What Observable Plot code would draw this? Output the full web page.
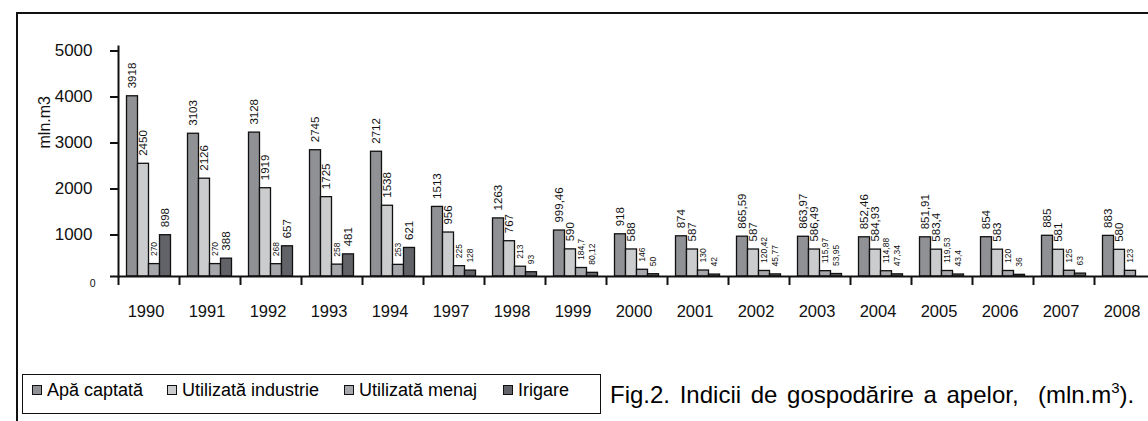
<!DOCTYPE html>
<html>
<head>
<meta charset="utf-8">
<script src="https://cdn.jsdelivr.net/npm/d3@7"></script>
<script src="https://cdn.jsdelivr.net/npm/@observablehq/plot@0.6"></script>
<style>
  html, body { margin: 0; padding: 0; background: #fff; overflow: hidden; }
  #page { position: relative; width: 1148px; height: 421px; font-family: "Liberation Sans", Arial, sans-serif; color: #000; }
  #border { position: absolute; left: 16px; top: 12px; width: 1200px; height: 430px; border-left: 2px solid #111; border-top: 2px solid #111; }
  #chart { position: absolute; left: 0; top: 0; }
  #legend { position: absolute; left: 22px; top: 374px; width: 577px; height: 38px; border: 1px solid #111; }
  .item { position: absolute; top: 5px; height: 20px; display: flex; align-items: center; font-size: 18px; line-height: 20px; white-space: nowrap; }
  .sw { width: 8px; height: 8px; border: 1px solid #111; margin-right: 5px; }
  #caption { position: absolute; left: 610px; top: 383px; font-size: 24px; line-height: 24px; white-space: nowrap; word-spacing: 3px; }
  #caption sup { font-size: 15px; vertical-align: 0; position: relative; top: -10px; }
</style>
</head>
<body>
<div id="page">
  <div id="border"></div>
  <div id="chart"></div>
  <div id="legend"></div>
  <div id="caption">Fig.2. Indicii de gospodărire a apelor,&nbsp; (mln.m<sup>3</sup>).</div>
</div>
<script>
// ---- data ----
const years = ["1990","1991","1992","1993","1994","1997","1998","1999","2000","2001","2002","2003","2004","2005","2006","2007","2008"];
const seriesNames = ["Apă captată", "Utilizată industrie", "Utilizată menaj", "Irigare"];
const apaCaptata = [3918, 3103, 3128, 2745, 2712, 1513, 1263, 999.46, 918, 874, 865.59, 863.97, 852.46, 851.91, 854, 885, 883];
const industrie  = [2450, 2126, 1919, 1725, 1538, 956, 767, 590, 588, 587, 587, 586.49, 584.93, 583.4, 583, 581, 580];
const menaj      = [270, 270, 268, 258, 253, 225, 213, 184.7, 146, 130, 120.42, 115.97, 114.88, 119.53, 120, 125, 123];
const irigare    = [898, 388, 657, 481, 621, 128, 93, 80.12, 50, 42, 45.77, 53.95, 47.34, 43.4, 36, 63, null];
const yTicks = [1000, 2000, 3000, 4000, 5000];
const seriesColors = ["#909195", "#cbccce", "#a6a7ab", "#626368"];

const seriesValues = [apaCaptata, industrie, menaj, irigare];
const fmt = v => String(v).replace(".", ",");

const step = 61, barW = 11, pad = (step - 4 * barW) / 2;
const marks = [];
seriesValues.forEach((vals, k) => {
  const rows = years.map((year, i) => ({year, value: vals[i]})).filter(d => d.value != null);
  marks.push(Plot.barY(rows, {
    x: "year", y: "value", fill: seriesColors[k], stroke: "#111", strokeWidth: 1.3,
    insetLeft: pad + barW * k, insetRight: pad + barW * (3 - k)
  }));
  marks.push(Plot.text(rows, {
    x: "year", y: "value", text: d => fmt(d.value), rotate: -90, textAnchor: "start",
    dx: pad + barW * k + barW / 2 - step / 2, dy: -8,
    fontSize: d => d.value >= 300 ? 11.5 : 8.5, fill: "#111"
  }));
});

const chart = Plot.plot({
  width: 1148,
  height: 340,
  marginLeft: 118,
  marginRight: 0,
  marginTop: 46,
  marginBottom: 64,
  style: {background: "transparent", fontFamily: "'Liberation Sans', Arial, sans-serif", color: "#111", overflow: "visible"},
  x: {type: "band", domain: years, range: [118, 118 + step * years.length], padding: 0, axis: null, label: null},
  y: {domain: [0, 5000], axis: null, label: null},
  marks: [
    ...marks,
    Plot.ruleY([0], {stroke: "#111", strokeWidth: 2, insetLeft: -8}),
    Plot.frame({anchor: "left", stroke: "#111", strokeWidth: 2}),
    Plot.axisY({ticks: yTicks, tickSize: 8, tickPadding: 18, strokeWidth: 2, fontSize: 17, dy: 4.5, label: null, tickFormat: d => String(d)}),
    Plot.axisY({ticks: [0], tickSize: 0, tickPadding: 23, fontSize: 10.5, dy: 7, label: null, tickFormat: d => String(d)}),
    Plot.axisX({tickSize: 9, strokeWidth: 2, dx: -step / 2, label: null, tickFormat: () => ""}),
    Plot.text(years, {x: d => d, frameAnchor: "bottom", dy: 40, dx: -3, fontSize: 16.5, fill: "#111"}),
    Plot.text(["mln.m3"], {frameAnchor: "left", dx: -74, dy: -13, rotate: -90, fontSize: 16, fill: "#111"})
  ]
});
document.getElementById("chart").appendChild(chart);

// legend
const legendLeft = [9, 144, 321, 480];
const legend = document.getElementById("legend");
seriesNames.forEach((name, k) => {
  const it = document.createElement("div");
  it.className = "item";
  it.style.left = legendLeft[k] + "px";
  const sw = document.createElement("div");
  sw.className = "sw";
  sw.style.background = seriesColors[k];
  const t = document.createElement("span");
  t.textContent = name;
  it.appendChild(sw); it.appendChild(t);
  legend.appendChild(it);
});
</script>
</body>
</html>
